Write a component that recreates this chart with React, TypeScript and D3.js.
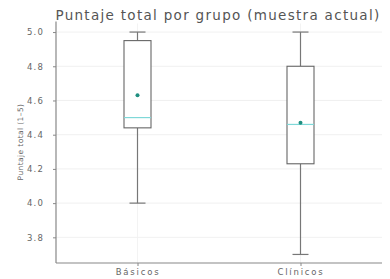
import React, { useRef, useEffect } from 'react';
import * as d3 from 'd3';

// Data
const groups = ['Básicos', 'Clínicos'];
const whiskerLow = [4.0, 3.7];
const q1 = [4.44, 4.23];
const medians = [4.5, 4.46];
const q3 = [4.95, 4.8];
const whiskerHigh = [5.0, 5.0];
const means = [4.63, 4.47];
const yTicks = [3.8, 4.0, 4.2, 4.4, 4.6, 4.8, 5.0];

const width = 390;
const height = 279;

const App: React.FC = () => {
  const svgRef = useRef<SVGSVGElement>(null);

  useEffect(() => {
    if (!svgRef.current) return;
    const svg = d3.select(svgRef.current);
    svg.selectAll('*').remove();

    const margin = { top: 23.5, right: 8, bottom: 16, left: 56 };
    const x = d3.scalePoint<string>()
      .domain(groups)
      .range([margin.left, width - margin.right])
      .padding(0.5);
    const y = d3.scaleLinear()
      .domain([3.65, 5.05])
      .range([height - margin.bottom, margin.top]);

    const font = 'DejaVu Sans, sans-serif';
    const boxHalf = 13.5;
    const capHalf = 8;

    // Grid
    svg.append('g')
      .selectAll('line')
      .data(yTicks)
      .enter()
      .append('line')
      .attr('x1', margin.left)
      .attr('x2', width - margin.right)
      .attr('y1', d => y(d))
      .attr('y2', d => y(d))
      .attr('stroke', '#ececec')
      .attr('stroke-width', 0.8);
    svg.append('g')
      .selectAll('line')
      .data(groups)
      .enter()
      .append('line')
      .attr('x1', d => x(d)!)
      .attr('x2', d => x(d)!)
      .attr('y1', margin.top)
      .attr('y2', height - margin.bottom)
      .attr('stroke', '#f0f0f0')
      .attr('stroke-width', 0.8);

    // Axes
    const yAxis = svg.append('g')
      .attr('transform', `translate(${margin.left},0)`)
      .call(d3.axisLeft(y).tickValues(yTicks).tickFormat(d3.format('.1f')).tickSize(3).tickPadding(9));
    const xAxis = svg.append('g')
      .attr('transform', `translate(0,${height - margin.bottom})`)
      .call(d3.axisBottom(x).tickSize(3).tickPadding(3));
    [yAxis, xAxis].forEach(g => {
      g.select('.domain').attr('stroke', '#888').attr('stroke-width', 1.2);
      g.selectAll('.tick line').attr('stroke', '#888');
      g.selectAll('.tick text')
        .attr('fill', '#666')
        .attr('font-family', font)
        .attr('font-size', 8.5);
    });
    yAxis.selectAll('.tick text').attr('letter-spacing', 1.2);
    xAxis.selectAll('.tick text').attr('letter-spacing', 1.8);
    xAxis.select('.domain').attr('d', `M${margin.left},0H${width - margin.right}`);
    yAxis.select('.domain').attr('d', `M0,${margin.top - 2}V${height - margin.bottom}`);

    // Boxes
    const boxes = svg.append('g')
      .selectAll('g')
      .data(groups)
      .enter()
      .append('g');

    boxes.append('line')
      .attr('x1', d => x(d)!)
      .attr('x2', d => x(d)!)
      .attr('y1', (d, i) => y(whiskerHigh[i]))
      .attr('y2', (d, i) => y(q3[i]))
      .attr('stroke', '#777')
      .attr('stroke-width', 1.2);
    boxes.append('line')
      .attr('x1', d => x(d)!)
      .attr('x2', d => x(d)!)
      .attr('y1', (d, i) => y(q1[i]))
      .attr('y2', (d, i) => y(whiskerLow[i]))
      .attr('stroke', '#777')
      .attr('stroke-width', 1.2);
    boxes.append('line')
      .attr('x1', d => x(d)! - capHalf)
      .attr('x2', d => x(d)! + capHalf)
      .attr('y1', (d, i) => y(whiskerHigh[i]))
      .attr('y2', (d, i) => y(whiskerHigh[i]))
      .attr('stroke', '#777')
      .attr('stroke-width', 1.2);
    boxes.append('line')
      .attr('x1', d => x(d)! - capHalf)
      .attr('x2', d => x(d)! + capHalf)
      .attr('y1', (d, i) => y(whiskerLow[i]))
      .attr('y2', (d, i) => y(whiskerLow[i]))
      .attr('stroke', '#777')
      .attr('stroke-width', 1.2);
    boxes.append('rect')
      .attr('x', d => x(d)! - boxHalf)
      .attr('width', boxHalf * 2)
      .attr('y', (d, i) => y(q3[i]))
      .attr('height', (d, i) => y(q1[i]) - y(q3[i]))
      .attr('fill', 'white')
      .attr('stroke', '#666')
      .attr('stroke-width', 1.1);
    boxes.append('line')
      .attr('x1', d => x(d)! - boxHalf)
      .attr('x2', d => x(d)! + boxHalf)
      .attr('y1', (d, i) => y(medians[i]))
      .attr('y2', (d, i) => y(medians[i]))
      .attr('stroke', '#7fd8d8')
      .attr('stroke-width', 1.2);
    boxes.append('circle')
      .attr('cx', d => x(d)!)
      .attr('cy', (d, i) => y(means[i]))
      .attr('r', 2)
      .attr('fill', '#1f8f80');

    // Y label
    svg.append('text')
      .attr('transform', `translate(23,142) rotate(-90)`)
      .attr('text-anchor', 'middle')
      .attr('font-family', font)
      .attr('font-size', 7.5)
      .attr('letter-spacing', 0.4)
      .attr('fill', '#666')
      .text('Puntaje total (1–5)');

    // Title
    svg.append('text')
      .attr('x', 218)
      .attr('y', 20)
      .attr('text-anchor', 'middle')
      .attr('font-family', font)
      .attr('font-size', 13.5)
      .attr('letter-spacing', 1.3)
      .attr('fill', '#555')
      .text('Puntaje total por grupo (muestra actual)');
  }, []);

  return (
    <svg
      ref={svgRef}
      width={width}
      height={height}
      style={{ position: 'absolute', left: 0, top: 0, background: 'white' }}
    />
  );
};

export default App;
